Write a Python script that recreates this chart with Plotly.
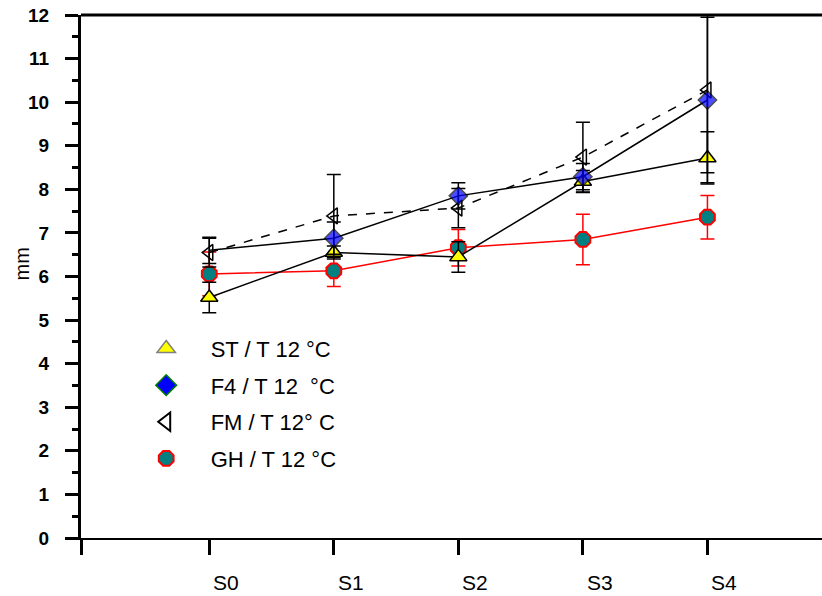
import plotly.graph_objects as go

categories = ["S0", "S1", "S2", "S3", "S4"]
x_pos = [0, 1, 2, 3, 4]

st_vals = [5.52, 6.55, 6.45, 8.18, 8.72]
st_err = [0.35, 0.15, 0.35, 0.25, 0.6]

f4_vals = [6.6, 6.88, 7.85, 8.29, 10.05]
f4_err = [0.3, 0.37, 0.3, 0.3, 1.9]

fm_vals = [6.55, 7.39, 7.57, 8.74, 10.28]
fm_err = [0.33, 0.95, 0.45, 0.8, 1.9]

gh_vals = [6.06, 6.13, 6.66, 6.85, 7.36]
gh_err = [0.5, 0.36, 0.42, 0.58, 0.5]

y_ticks = list(range(0, 13))
legend_names = ["ST / T 12 °C", "F4 / T 12  °C", "FM / T 12° C", "GH / T 12 °C"]
y_title = "mm"

fig = go.Figure()

def err(vals, color, w=1.5):
    return dict(type="data", array=vals, visible=True, color=color, thickness=w, width=7)

fig.add_trace(go.Scatter(x=x_pos, y=gh_vals, mode="lines+markers", showlegend=False,
    line=dict(color="red", width=1.5),
    marker=dict(symbol="octagon", size=16, color="#008080", line=dict(color="red", width=2)),
    error_y=err(gh_err, "red")))
fig.add_trace(go.Scatter(x=x_pos, y=st_vals, mode="lines+markers", showlegend=False,
    line=dict(color="black", width=1.5),
    marker=dict(symbol="triangle-up", size=15, color="yellow", line=dict(color="black", width=1.5)),
    error_y=err(st_err, "black")))
fig.add_trace(go.Scatter(x=x_pos, y=fm_vals, mode="lines+markers", showlegend=False,
    line=dict(color="black", width=1.5, dash="dash"),
    marker=dict(symbol="triangle-left-open", size=14, color="black", line=dict(color="black", width=1.5)),
    error_y=err(fm_err, "black")))
fig.add_trace(go.Scatter(x=x_pos, y=f4_vals, mode="lines+markers", showlegend=False,
    line=dict(color="black", width=1.5),
    marker=dict(symbol="diamond", size=[0, 14, 14, 14, 14], color="#0000ff",
                line=dict(color="black", width=1.5)),
    error_y=err(f4_err, "black")))

leg_markers = [
    dict(symbol="triangle-up", size=26, color="yellow", line=dict(color="gray", width=1.5)),
    dict(symbol="diamond", size=24, color="#0000ff", line=dict(color="green", width=1.5)),
    dict(symbol="triangle-left-open", size=22, color="black", line=dict(color="black", width=2)),
    dict(symbol="octagon", size=22, color="#008080", line=dict(color="red", width=2)),
]
for i, (nm, mk) in enumerate(zip(legend_names, leg_markers)):
    fig.add_trace(go.Scatter(x=[None], y=[None], mode="markers", name="    " + nm,
                             marker=mk, legendgroup=f"g{i}"))

fig.add_shape(type="line", xref="paper", yref="paper", x0=0, x1=1, y0=1, y1=1,
              line=dict(color="black", width=3))

for xv, lab in zip(x_pos, categories):
    fig.add_annotation(x=xv, y=0, xref="x", yref="paper", text=lab, showarrow=False,
                       xanchor="center", yanchor="top", xshift=17, yshift=-31,
                       font=dict(size=21, family="Liberation Sans, Arial", color="black"))

fig.add_annotation(x=0, y=0.5, xref="paper", yref="paper", text=y_title, showarrow=False,
                   textangle=-90, xanchor="center", yanchor="middle", xshift=-60, yshift=12,
                   font=dict(size=20, family="Liberation Sans, Arial", color="black"))

fig.update_layout(
    width=822, height=596,
    margin=dict(l=81, r=0, t=15, b=58),
    plot_bgcolor="white", paper_bgcolor="white",
    font=dict(family="Liberation Sans, Arial, sans-serif", color="black"),
    legend=dict(x=0.088, y=0.402, xanchor="left", yanchor="top", bgcolor="rgba(0,0,0,0)",
                font=dict(size=22), tracegroupgap=5, itemsizing="trace"),
    xaxis=dict(range=[-1.03, 4.92], tickvals=[-1.03] + x_pos, ticktext=[""] * 6,
               showgrid=False, zeroline=False, showline=True, linecolor="black", linewidth=2,
               ticks="outside", ticklen=15, tickwidth=3, tickcolor="black"),
    yaxis=dict(range=[0, 12], tickvals=y_ticks, ticktext=[f"<b>{v}</b>" for v in y_ticks],
               showgrid=False, zeroline=False, showline=True,
               linecolor="black", linewidth=3, ticks="outside", ticklen=13, tickwidth=3,
               tickcolor="black", tickfont=dict(size=19, family="Liberation Sans, Arial"),
               ticklabelstandoff=12,
               minor=dict(dtick=0.5, ticks="outside", ticklen=6, tickwidth=3, tickcolor="black")),
)

fig.write_html("out.html", post_script="document.body.style.margin='0px';",
               config={"displayModeBar": False})
